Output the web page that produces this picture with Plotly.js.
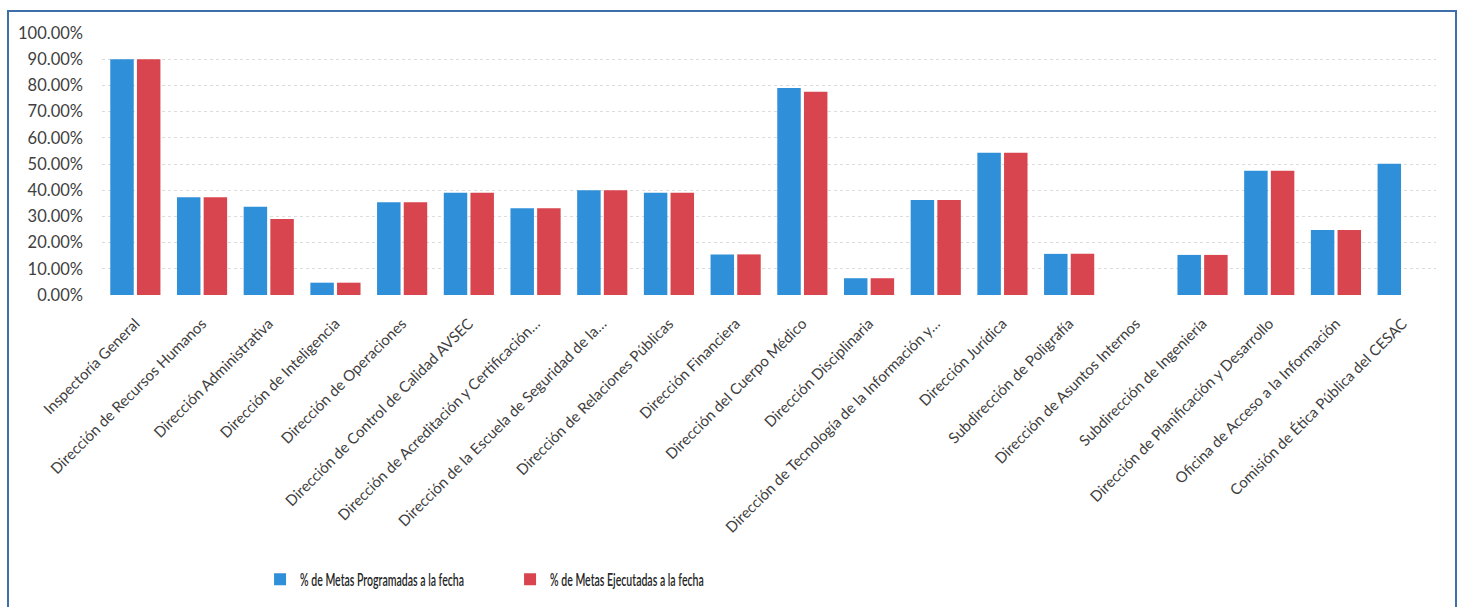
<!DOCTYPE html>
<html>
<head>
<meta charset="utf-8">
<script src="https://cdn.plot.ly/plotly-3.0.1.min.js"></script>
<style>
  html, body { margin: 0; padding: 0; background: #ffffff; overflow: hidden; }
  #frame { position: absolute; left: 7px; top: 10px; width: 1450px; height: 640px; border: 2px solid #3d6fa8; box-sizing: border-box; pointer-events: none; z-index: 5; }
  #chart { width: 1461px; height: 607px; }
</style>
</head>
<body>
<div id="frame"></div>
<div id="chart"></div>
<script>
const categories = [
  "Inspectoría General",
  "Dirección de Recursos Humanos",
  "Dirección Administrativa",
  "Dirección de Inteligencia",
  "Dirección de Operaciones",
  "Dirección de Control de Calidad AVSEC",
  "Dirección de Acreditación y Certificación…",
  "Dirección de la Escuela de Seguridad de la…",
  "Dirección de Relaciones Públicas",
  "Dirección Financiera",
  "Dirección del Cuerpo Médico",
  "Dirección Disciplinaria",
  "Dirección de Tecnología de la Información y…",
  "Dirección Jurídica",
  "Subdirección de Poligrafía",
  "Dirección de Asuntos Internos",
  "Subdirección de Ingeniería",
  "Dirección de Planificación y Desarrollo",
  "Oficina de Acceso a la Información",
  "Comisión de Ética Pública del CESAC"
];
const programadas = [0.90, 0.373, 0.337, 0.047, 0.354, 0.390, 0.331, 0.400, 0.390, 0.155, 0.790, 0.064, 0.363, 0.543, 0.157, null, 0.153, 0.474, 0.248, 0.501];
const ejecutadas  = [0.90, 0.373, 0.290, 0.047, 0.354, 0.390, 0.331, 0.400, 0.390, 0.155, 0.776, 0.064, 0.363, 0.543, 0.157, null, 0.153, 0.474, 0.248, null];
const seriesNames = ["% de Metas Programadas a la fecha", "% de Metas Ejecutadas a la fecha"];
const yTicks = [0, 0.1, 0.2, 0.3, 0.4, 0.5, 0.6, 0.7, 0.8, 0.9, 1.0];

const data = [
  { type: "bar", name: seriesNames[0], x: categories, y: programadas, marker: { color: "#2f8fd8" }, hoverinfo: "none" },
  { type: "bar", name: seriesNames[1], x: categories, y: ejecutadas, marker: { color: "#d8454f" }, hoverinfo: "none" }
];

const layout = {
  width: 1461, height: 607,
  margin: { l: 102, r: 25, t: 33, b: 312 },
  paper_bgcolor: "#ffffff", plot_bgcolor: "#ffffff",
  barmode: "group", bargap: 0.2, bargroupgap: 0.12,
  showlegend: true,
  legend: {
    orientation: "h", xref: "container", yref: "container",
    x: 0.178, xanchor: "left", y: 0.045, yanchor: "middle",
    entrywidth: 205, entrywidthmode: "pixels",
    font: { family: "Lato, sans-serif", size: 17, color: "#262626", weight: 600 },
    itemclick: false
  },
  xaxis: {
    type: "category", tickangle: -45,
    tickfont: { family: "Lato, sans-serif", size: 15, color: "#404040" },
    ticklabelstandoff: 16,
    showgrid: false, zeroline: false, showline: false, ticks: "", automargin: false
  },
  yaxis: {
    range: [0, 1.0], tickvals: yTicks, tickformat: ".2%",
    tickfont: { family: "Lato, sans-serif", size: 16.5, color: "#404040" },
    ticklabelstandoff: 18,
    showgrid: true, gridcolor: "#dcdcdc", griddash: "dot", gridwidth: 1,
    zeroline: false, showline: false, ticks: "", automargin: false
  }
};

Plotly.newPlot("chart", data, layout, { staticPlot: true, displayModeBar: false }).then(function (gd) {
  // narrow the legend labels to mimic the condensed legend font of the original
  gd.querySelectorAll(".legendtext").forEach(function (t) {
    const w = t.getComputedTextLength();
    t.setAttribute("textLength", (w * 0.62).toFixed(1));
    t.setAttribute("lengthAdjust", "spacingAndGlyphs");
  });
});
</script>
</body>
</html>
